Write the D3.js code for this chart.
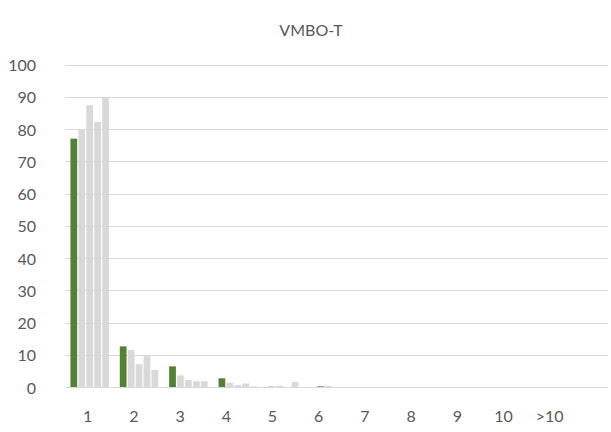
<!DOCTYPE html>
<html>
<head>
<meta charset="utf-8">
<script src="https://cdn.jsdelivr.net/npm/d3@7/dist/d3.min.js"></script>
<style>
  html, body { margin: 0; padding: 0; background: #fff; }
  svg { display: block; }
  text { font-family: Lato, "Open Sans", sans-serif; fill: #595959; }
</style>
</head>
<body>
<svg id="chart" width="611" height="432"></svg>
<script>
const title = "VMBO-T";
const categories = ["1", "2", "3", "4", "5", "6", "7", "8", "9", "10", ">10"];
const seriesNames = ["s1", "s2", "s3", "s4", "s5"];
const series1 = [77.0, 12.6, 6.4, 2.7, 0.1, 0.2, 0, 0, 0, 0, 0];
const series2 = [79.7, 11.5, 3.6, 1.3, 0.4, 0.3, 0, 0, 0, 0, 0];
const series3 = [87.4, 7.1, 2.2, 0.6, 0.0, 0.0, 0, 0, 0, 0, 0];
const series4 = [82.2, 9.9, 1.8, 1.1, 1.6, 0.0, 0, 0, 0, 0, 0];
const series5 = [89.8, 5.3, 1.8, 0.2, 0.0, 0.0, 0, 0, 0, 0, 0];
const yTicks = [0, 10, 20, 30, 40, 50, 60, 70, 80, 90, 100];
const colors = ["#548235", "#d9d9d9", "#d9d9d9", "#d9d9d9", "#d9d9d9"];

const allSeries = [series1, series2, series3, series4, series5];

const svg = d3.select("#chart");
const plotLeft = 65, plotRight = 608, plotTop = 64.5, plotBottom = 387;

const x0 = d3.scaleBand().domain(categories).range([plotLeft, plotRight])
  .paddingInner(0.22).paddingOuter(0.11);
const x1 = d3.scaleBand().domain(seriesNames).range([0, x0.bandwidth()])
  .paddingInner(0.15).paddingOuter(0);
// category labels in the reference are spaced a little tighter than the bar groups
const xLab = d3.scaleBand().domain(categories).range([64.6, 572.8]);
const y = d3.scaleLinear().domain([0, 100]).range([plotBottom, plotTop]);

// gridlines
svg.append("g").selectAll("line").data(yTicks).join("line")
  .attr("x1", plotLeft).attr("x2", plotRight)
  .attr("y1", d => Math.round(y(d)) + 0.5).attr("y2", d => Math.round(y(d)) + 0.5)
  .attr("stroke", "#d9d9d9").attr("stroke-width", 1);

// y labels
const yAxis = d3.axisLeft(y).tickValues(yTicks).tickSize(0).tickPadding(0);
const gy = svg.append("g").attr("transform", `translate(36,1)`).call(yAxis);
gy.select(".domain").remove();
gy.selectAll("text").style("font-size", "16px").style("font-family", "Lato, sans-serif").attr("fill", "#595959");

// bars
const groups = svg.append("g").selectAll("g").data(categories).join("g")
  .attr("transform", d => `translate(${x0(d)},0)`);
groups.selectAll("rect")
  .data((c, i) => allSeries.map((s, j) => ({ key: seriesNames[j], v: s[i], j })))
  .join("rect")
  .attr("x", d => x1(d.key))
  .attr("width", x1.bandwidth())
  .attr("y", d => y(d.v))
  .attr("height", d => y(0) - y(d.v))
  .attr("fill", d => colors[d.j]);

// baseline
svg.append("line").attr("x1", plotLeft).attr("x2", plotRight)
  .attr("y1", Math.round(y(0)) + 0.5).attr("y2", Math.round(y(0)) + 0.5)
  .attr("stroke", "#d9d9d9").attr("stroke-width", 1);

// x labels
const xAxis = d3.axisBottom(xLab).tickSize(0).tickPadding(0);
const gx = svg.append("g").attr("transform", `translate(0,${plotBottom + 24})`).call(xAxis);
gx.select(".domain").remove();
gx.selectAll("text").style("font-size", "16px").style("font-family", "Lato, sans-serif").attr("fill", "#595959");

// title
svg.append("text").attr("x", 311).attr("y", 36).attr("text-anchor", "middle")
  .style("font-size", "16px").text(title);
</script>
</body>
</html>
